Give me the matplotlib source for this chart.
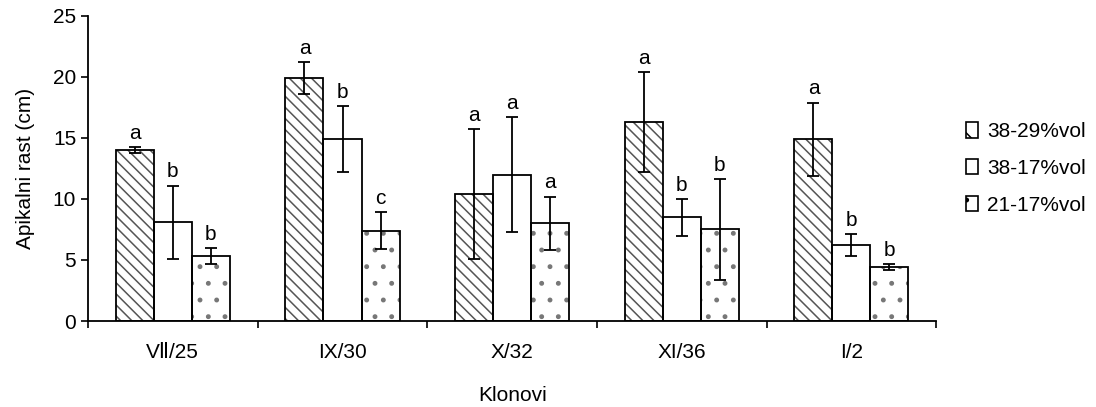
import numpy as np
import matplotlib.pyplot as plt
from matplotlib.patches import Patch

plt.rcParams['font.family'] = ['Liberation Sans', 'DejaVu Sans']
plt.rcParams['hatch.linewidth'] = 1.1

clones = ["VⅡ/25", "IX/30", "X/32", "XI/36", "I/2"]
series = ["38-29%vol", "38-17%vol", "21-17%vol"]

vol_38_29 = [14.0, 19.9, 10.4, 16.3, 14.9]
vol_38_17 = [8.1, 14.9, 12.0, 8.5, 6.2]
vol_21_17 = [5.3, 7.4, 8.0, 7.5, 4.4]

err_38_29 = [0.25, 1.3, 5.3, 4.1, 3.0]
err_38_17 = [3.0, 2.7, 4.7, 1.5, 0.9]
err_21_17 = [0.65, 1.5, 2.2, 4.1, 0.25]

letters_38_29 = ["a", "a", "a", "a", "a"]
letters_38_17 = ["b", "b", "a", "b", "b"]
letters_21_17 = ["b", "c", "a", "b", "b"]

values = [vol_38_29, vol_38_17, vol_21_17]
errors = [err_38_29, err_38_17, err_21_17]
letters = [letters_38_29, letters_38_17, letters_21_17]
hatches = ["\\\\\\", "", "."]
legend_hatches = ["\\", "", "."]
hatch_colors = ["#555555", "white", "#777777"]

FS = 15

fig = plt.figure(figsize=(10.96, 4.07), dpi=100)
ax = fig.add_axes([0.0803, 0.2113, 0.774, 0.7494])

x = np.arange(len(clones))
width = 0.224
handles = []
for i, (vals, errs, labs) in enumerate(zip(values, errors, letters)):
    pos = x + (i - 1) * width
    # hatch layer in grey, outline in black on top
    ax.bar(pos, vals, width, color="white", edgecolor=hatch_colors[i],
           linewidth=0, hatch=hatches[i], zorder=2)
    ax.bar(pos, vals, width, fill=False, edgecolor="black", linewidth=1.3,
           zorder=2.5)
    ax.errorbar(pos, vals, yerr=errs, fmt="none", ecolor="black",
                elinewidth=1.3, capsize=4.5, capthick=1.3, zorder=3)
    for p, v, e, t in zip(pos, vals, errs, labs):
        ax.text(p, v + e + 0.35, t, ha="center", va="bottom", fontsize=FS)
    handles.append(Patch(facecolor="white", edgecolor="black", linewidth=1.2,
                         hatch=legend_hatches[i], label=series[i]))

ax.set_xlim(-0.5, len(clones) - 0.5)
ax.set_ylim(0, 25)
ax.set_yticks(range(0, 26, 5))
ax.set_xticks(np.arange(len(clones) + 1) - 0.5)
ax.set_xticklabels([])
ax.set_xticks(x, minor=True)
ax.set_xticklabels(clones, minor=True)
ax.tick_params(axis="x", which="minor", length=0, pad=16, labelsize=FS)
ax.tick_params(axis="x", which="major", length=5, width=1.2, direction="out")
ax.tick_params(axis="y", length=5, width=1.2, labelsize=FS)

for side in ["top", "right"]:
    ax.spines[side].set_visible(False)
for side in ["left", "bottom"]:
    ax.spines[side].set_linewidth(1.3)

ax.set_ylabel("Apikalni rast (cm)", fontsize=FS, labelpad=13)
ax.set_xlabel("Klonovi", fontsize=FS, labelpad=17)

ax.legend(handles=handles, loc="center left", bbox_to_anchor=(1.013, 0.50),
          frameon=False, fontsize=FS, handlelength=0.55, handleheight=0.75,
          handletextpad=0.45, labelspacing=0.85)

fig.savefig("out.png", dpi=100)
